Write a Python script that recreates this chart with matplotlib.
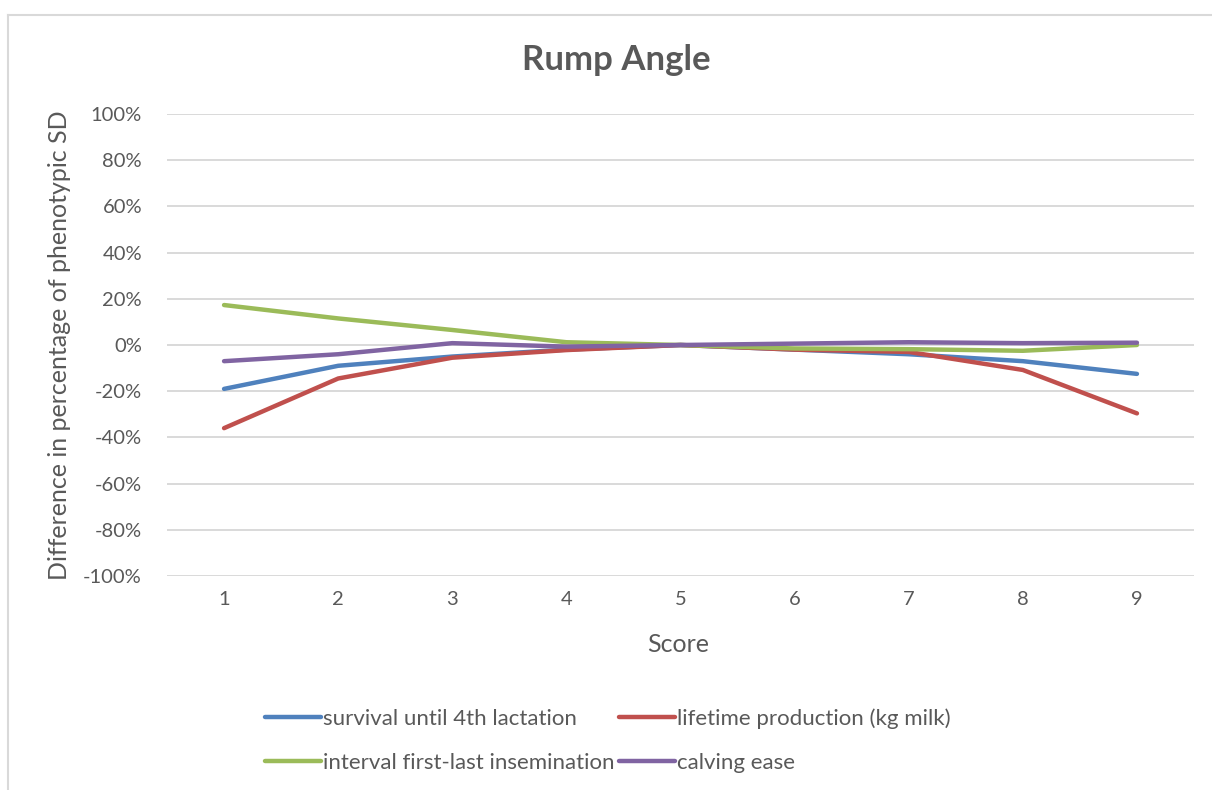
import matplotlib
matplotlib.use('Agg')
import matplotlib.pyplot as plt
from matplotlib.ticker import FuncFormatter

plt.rcParams['font.family'] = ['Lato', 'DejaVu Sans']
plt.rcParams['axes.unicode_minus'] = False

# Rump Angle - difference in % of phenotypic SD per score
scores = [1, 2, 3, 4, 5, 6, 7, 8, 9]
survival = [-0.19, -0.09, -0.05, -0.02, 0.0, -0.02, -0.04, -0.07, -0.125]
lifetime = [-0.36, -0.145, -0.055, -0.022, 0.0, -0.02, -0.03, -0.108, -0.296]
interval = [0.173, 0.115, 0.065, 0.012, 0.0, -0.015, -0.018, -0.025, 0.0]
calving = [-0.07, -0.04, 0.008, -0.007, 0.0, 0.006, 0.012, 0.008, 0.01]

names = ['survival until 4th lactation', 'lifetime production (kg milk)',
         'interval first-last insemination', 'calving ease']
colors = ['#4F81BD', '#C0504D', '#9BBB59', '#8064A2']
yticks = [-1.0, -0.8, -0.6, -0.4, -0.2, 0.0, 0.2, 0.4, 0.6, 0.8, 1.0]

txt = '#595959'
W, H = 1212, 790
fig = plt.figure(figsize=(W / 100, H / 100), dpi=100)
ax = fig.add_axes([167 / W, 1 - 576 / H, (1194 - 167) / W, (576 - 114) / H])

lines = []
for vals, name, c in zip([survival, lifetime, interval, calving], names, colors):
    ln, = ax.plot(scores, vals, color=c, lw=3.2, solid_capstyle='round',
                  solid_joinstyle='round', label=name, zorder=3)
    lines.append(ln)

ax.set_xlim(0.5, 9.5)
ax.set_ylim(-1.0, 1.0)
ax.set_xticks(scores)
ax.set_yticks(yticks)
ax.yaxis.set_major_formatter(FuncFormatter(lambda v, p: f'{v * 100:.0f}%'))
ax.grid(axis='y', color='#D9D9D9', lw=1.4, zorder=0)
ax.tick_params(length=0, labelsize=14.5, labelcolor=txt)
ax.tick_params(axis='y', pad=18)
ax.tick_params(axis='x', pad=11)
for s in ax.spines.values():
    s.set_visible(False)

fig.text(616 / W, 1 - 60 / H, 'Rump Angle', ha='center', va='center',
         fontsize=25, fontweight='bold', color=txt)
fig.text(60 / W, 1 - 345 / H, 'Difference in percentage of phenotypic SD',
         rotation=90, ha='center', va='center', fontsize=18, color=txt)
fig.text(678 / W, 1 - 645 / H, 'Score', ha='center', va='center',
         fontsize=18, color=txt)

# legend filled column-wise, so reorder to get rows as in the original
order = [0, 2, 1, 3]
fig.legend([lines[i] for i in order], [names[i] for i in order],
           loc='upper left', bbox_to_anchor=(265 / W, 1 - 708 / H),
           ncol=2, frameon=False, fontsize=16, labelcolor=txt,
           handlelength=2.5, handletextpad=0.12, columnspacing=0.2,
           labelspacing=1.1, borderpad=0, borderaxespad=0)

# light chart border (left and top edges visible in the crop)
fig.add_artist(plt.Line2D([8 / W, 8 / W], [0, 1 - 15 / H], color='#D9D9D9', lw=1.5))
fig.add_artist(plt.Line2D([8 / W, 1], [1 - 15 / H, 1 - 15 / H], color='#D9D9D9', lw=1.5))

fig.savefig('out.png', dpi=100, facecolor='white')
